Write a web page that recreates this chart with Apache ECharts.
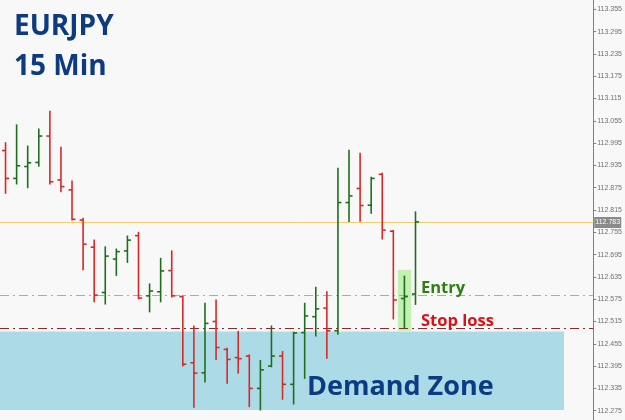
<!DOCTYPE html>
<html>
<head>
<meta charset="utf-8">
<script src="https://cdn.jsdelivr.net/npm/echarts@6/dist/echarts.min.js"></script>
<style>html,body{margin:0;padding:0;background:#f8f8f8;}#c{width:625px;height:420px;}</style>
</head>
<body>
<div id="c"></div>
<script>
// OHLC bars (EURJPY, 15 min)
const opens  = [112.975,112.900,112.932,112.943,113.014,112.896,112.869,112.788,112.715,112.593,112.683,112.705,112.746,112.584,112.595,112.652,112.582,112.404,112.377,112.515,112.440,112.418,112.422,112.335,112.395,112.422,112.346,112.485,112.528,112.551,112.490,112.835,112.873,112.828,112.911,112.758,112.577,112.589];
const highs  = [112.996,113.044,112.987,113.033,113.081,112.984,112.893,112.793,112.734,112.716,112.710,112.745,112.755,112.616,112.685,112.705,112.584,112.503,112.564,112.573,112.443,112.488,112.425,112.410,112.503,112.434,112.486,112.564,112.607,112.595,112.927,112.976,112.968,112.903,112.914,112.760,112.637,112.810];
const lows   = [112.860,112.885,112.875,112.933,112.885,112.864,112.788,112.654,112.568,112.562,112.639,112.674,112.576,112.541,112.568,112.581,112.395,112.284,112.352,112.413,112.349,112.376,112.286,112.277,112.393,112.306,112.293,112.362,112.476,112.416,112.481,112.784,112.785,112.806,112.737,112.522,112.497,112.561];
const closes = [112.900,112.934,112.942,113.014,112.891,112.878,112.790,112.723,112.586,112.691,112.703,112.734,112.578,112.597,112.651,112.584,112.400,112.376,112.510,112.445,112.413,112.415,112.335,112.385,112.422,112.346,112.484,112.530,112.549,112.490,112.835,112.853,112.827,112.900,112.761,112.573,112.582,112.783];
const yTicks = [113.355,113.295,113.235,113.175,113.115,113.055,112.995,112.935,112.875,112.815,112.755,112.695,112.635,112.575,112.515,112.455,112.395,112.335,112.275];
const currentPrice = 112.783;
const entryPrice = 112.586;
const stopPrice = 112.498;
const levels = [currentPrice, entryPrice, stopPrice];
const demandZone = {x0: -0.5, x1: 50.4, low: 112.277, high: 112.488};
const entryBar = {x0: 35.4, x1: 36.6, low: 112.490, high: 112.654};

const UP = '#1f6e1f', DOWN = '#d42a2a';
const levelStyles = [
  {stroke: '#f0cf72', lineWidth: 1},
  {stroke: '#7ccc7c', lineWidth: 1.2, lineDash: [9, 4, 2, 4]},
  {stroke: '#8b2a2a', lineWidth: 1, lineDash: [9, 4, 2, 4]}
];
const data = opens.map((o, i) => [i, o, highs[i], lows[i], closes[i]]);

const chart = echarts.init(document.getElementById('c'));
chart.setOption({
  backgroundColor: '#f8f8f8',
  animation: false,
  grid: {left: 0, right: 28, top: 0, bottom: 0},
  xAxis: {type: 'value', min: -0.5, max: 53.04, show: false},
  yAxis: {
    type: 'value', position: 'right', min: 112.250, max: 113.380, scale: true,
    axisLine: {show: true, onZero: false, lineStyle: {color: '#808080', width: 1}},
    axisTick: {show: true, length: 3, customValues: yTicks, lineStyle: {color: '#808080'}},
    axisLabel: {customValues: yTicks, fontSize: 7, color: '#707070', margin: 4,
      fontFamily: 'Liberation Sans', formatter: v => v.toFixed(3)},
    splitLine: {show: false}
  },
  series: [
    {
      type: 'line', data: [], z: 1, silent: true,
      markArea: {silent: true, itemStyle: {color: '#acdbe7', opacity: 1},
        data: [[{coord: [demandZone.x0, demandZone.high]}, {coord: [demandZone.x1, demandZone.low]}]]}
    },
    {
      type: 'custom', z: 2, silent: true, clip: false,
      data: levels.map(v => [0, v]),
      encode: {x: 0, y: 1},
      renderItem: function (params, api) {
        const cs = params.coordSys;
        const y = Math.round(api.coord([0, api.value(1)])[1]) + 0.5;
        const children = [{type: 'line', shape: {x1: cs.x, y1: y, x2: cs.x + cs.width, y2: y}, style: levelStyles[params.dataIndex]}];
        if (params.dataIndex === 0) {
          children.push({type: 'rect', shape: {x: cs.x + cs.width + 1, y: y - 5.5, width: 27, height: 11}, style: {fill: '#8a8a8a'}});
          children.push({type: 'text', x: cs.x + cs.width + 14.5, y: y, style: {text: api.value(1).toFixed(3), fill: '#ffffff',
            font: '7px "Liberation Sans"', textAlign: 'center', textVerticalAlign: 'middle'}});
        }
        return {type: 'group', children: children};
      }
    },
    {
      type: 'custom', z: 5,
      data: data,
      encode: {x: 0, y: [1, 2, 3, 4]},
      renderItem: function (params, api) {
        const i = api.value(0), o = api.value(1), h = api.value(2), l = api.value(3), c = api.value(4);
        const pH = api.coord([i, h]), pL = api.coord([i, l]), pO = api.coord([i, o]), pC = api.coord([i, c]);
        const color = c >= o ? UP : DOWN;
        const st = {stroke: color, lineWidth: 1.6};
        return {type: 'group', children: [
          {type: 'line', shape: {x1: pH[0], y1: pH[1] - 0.5, x2: pL[0], y2: pL[1] + 0.5}, style: st},
          {type: 'line', shape: {x1: pO[0] - 3.5, y1: pO[1], x2: pO[0], y2: pO[1]}, style: st},
          {type: 'line', shape: {x1: pC[0], y1: pC[1], x2: pC[0] + 3.5, y2: pC[1]}, style: st}
        ]};
      }
    },
    {
      type: 'line', data: [], z: 6, silent: true,
      markArea: {silent: true, itemStyle: {color: 'rgba(150,235,120,0.55)'},
        data: [[{coord: [entryBar.x0, entryBar.high]}, {coord: [entryBar.x1, entryBar.low]}]]}
    }
  ],
  graphic: [
    {type: 'text', x: 14, y: 27, z: 10, style: {text: 'EURJPY', font: 'bold 28px "Open Sans"', fill: '#0d3b80', textVerticalAlign: 'middle'}},
    {type: 'text', x: 14, y: 67, z: 10, style: {text: '15 Min', font: 'bold 28px "Open Sans"', fill: '#0d3b80', textVerticalAlign: 'middle'}},
    {type: 'text', x: 421, y: 288, z: 10, style: {text: 'Entry', font: 'bold 16.5px "Open Sans"', fill: '#2f7f16', textVerticalAlign: 'middle'}},
    {type: 'text', x: 421, y: 321, z: 10, style: {text: 'Stop loss', font: 'bold 16.5px "Open Sans"', fill: '#d4141a', textVerticalAlign: 'middle'}},
    {type: 'text', x: 307, y: 387, z: 10, style: {text: 'Demand Zone', font: 'bold 27px "Open Sans"', fill: '#0b3c83', textVerticalAlign: 'middle'}}
  ]
});
</script>
</body>
</html>
